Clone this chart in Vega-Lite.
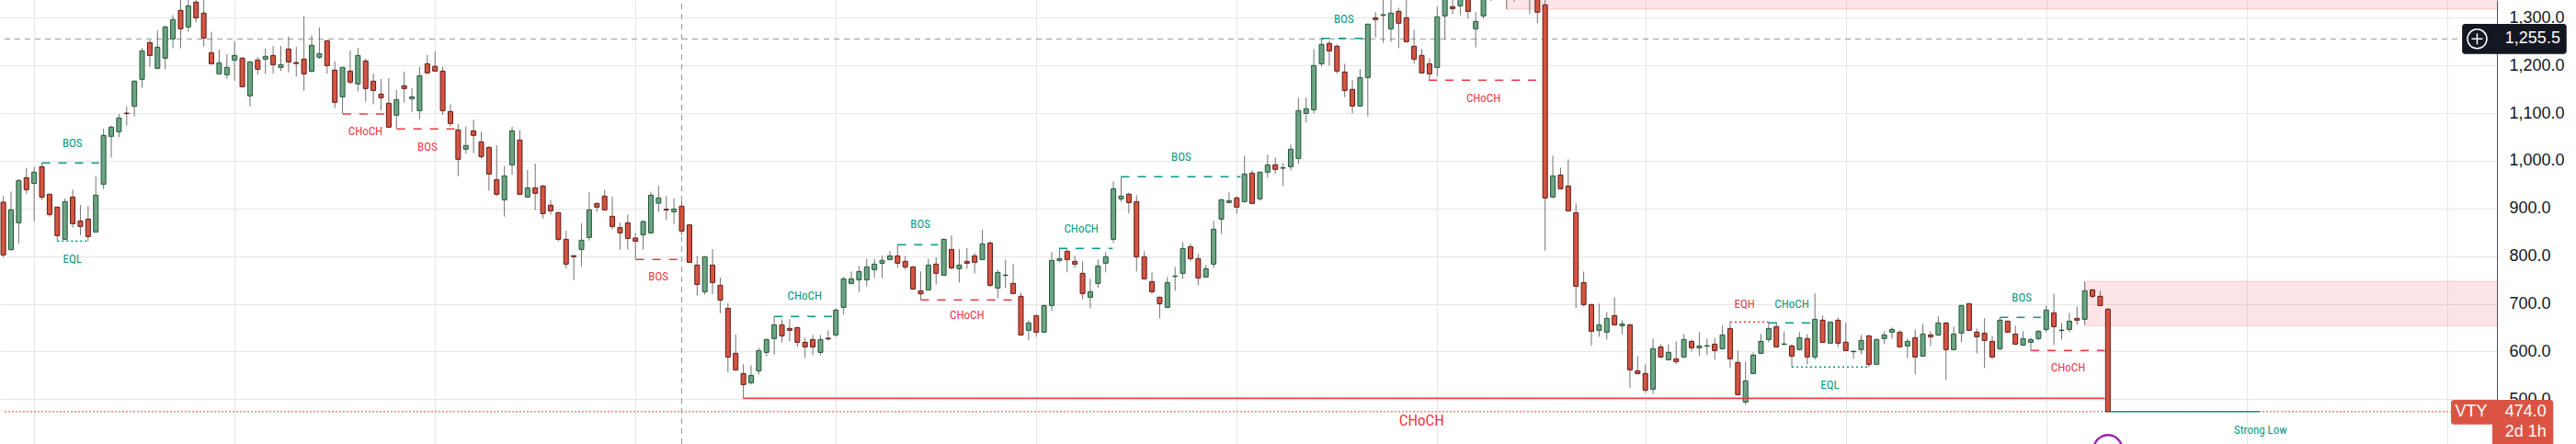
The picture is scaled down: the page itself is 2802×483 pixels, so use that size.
{
  "$schema": "https://vega.github.io/schema/vega-lite/v6.json",
  "width": 2716,
  "height": 483,
  "autosize": {"type": "none"},
  "padding": {"left": 0, "top": 0, "right": 86, "bottom": 0},
  "background": "#ffffff",
  "config": {"view": {"stroke": null}},
  "resolve": {"axis": {"x": "independent", "y": "independent"}},
  "datasets": {
    "candles": [
      {"i":0,"o":913.2,"h":926,"l":797.5,"c":802.7},
      {"i":1,"o":813.6,"h":935.7,"l":812,"c":897.1},
      {"i":2,"o":870.1,"h":961.4,"l":826.4,"c":958.8},
      {"i":3,"o":964.6,"h":985.2,"l":931.2,"c":939.5},
      {"i":4,"o":952.4,"h":987.1,"l":873.3,"c":976.2},
      {"i":5,"o":987.7,"h":995.4,"l":917.7,"c":924.1},
      {"i":6,"o":929.9,"h":931,"l":883,"c":887.5},
      {"i":7,"o":902.9,"h":903.5,"l":831.6,"c":843.1},
      {"i":8,"o":835.4,"h":920.9,"l":834.5,"c":914.5},
      {"i":9,"o":924.1,"h":940.2,"l":859.9,"c":868.2},
      {"i":10,"o":874,"h":907.4,"l":843.8,"c":862.4},
      {"i":11,"o":877.8,"h":905.5,"l":831.6,"c":841.2},
      {"i":12,"o":850.9,"h":967.2,"l":849.5,"c":928},
      {"i":13,"o":951.1,"h":1067.4,"l":940.8,"c":1053.3},
      {"i":14,"o":1051.3,"h":1073.8,"l":1006.4,"c":1070.6},
      {"i":15,"o":1061,"h":1098.3,"l":1049.4,"c":1089.9},
      {"i":16,"o":1100,"h":1113.7,"l":1073.8,"c":1099},
      {"i":17,"o":1114.3,"h":1168.9,"l":1093.1,"c":1167},
      {"i":18,"o":1170.9,"h":1236.4,"l":1152.9,"c":1230.6},
      {"i":19,"o":1248,"h":1253.8,"l":1197.2,"c":1221},
      {"i":20,"o":1194,"h":1273,"l":1192.5,"c":1238.3},
      {"i":21,"o":1215.2,"h":1284,"l":1191.4,"c":1280.7},
      {"i":22,"o":1255.7,"h":1305.2,"l":1235.8,"c":1296.2},
      {"i":23,"o":1315.5,"h":1340,"l":1235.8,"c":1276.9},
      {"i":24,"o":1280.7,"h":1345,"l":1270.5,"c":1325.1},
      {"i":25,"o":1332.8,"h":1345,"l":1290.4,"c":1300},
      {"i":26,"o":1309.7,"h":1340,"l":1239.6,"c":1257.6},
      {"i":27,"o":1226.8,"h":1270.5,"l":1202,"c":1203.6},
      {"i":28,"o":1182.4,"h":1233.2,"l":1181,"c":1205.6},
      {"i":29,"o":1180.5,"h":1223.5,"l":1172.1,"c":1195.9},
      {"i":30,"o":1211.4,"h":1250.5,"l":1168.3,"c":1221},
      {"i":31,"o":1215.2,"h":1217.8,"l":1154,"c":1155.4},
      {"i":32,"o":1136.2,"h":1209,"l":1114.3,"c":1207.5},
      {"i":33,"o":1211.4,"h":1217.8,"l":1180.5,"c":1192.1},
      {"i":34,"o":1213.3,"h":1235.8,"l":1182.4,"c":1219.1},
      {"i":35,"o":1221,"h":1240.9,"l":1183.1,"c":1201.7},
      {"i":36,"o":1195.9,"h":1240.9,"l":1188.2,"c":1201.7},
      {"i":37,"o":1234.5,"h":1260.2,"l":1185.6,"c":1207.5},
      {"i":38,"o":1206,"h":1239,"l":1176.7,"c":1204},
      {"i":39,"o":1213.3,"h":1303.2,"l":1147.1,"c":1182.4},
      {"i":40,"o":1187.6,"h":1263.4,"l":1186,"c":1242.2},
      {"i":41,"o":1217.1,"h":1279.5,"l":1213.9,"c":1224.8},
      {"i":42,"o":1251.8,"h":1253,"l":1183.1,"c":1199.8},
      {"i":43,"o":1190.1,"h":1208.8,"l":1110.5,"c":1122.7},
      {"i":44,"o":1134.2,"h":1197,"l":1098.3,"c":1195.9},
      {"i":45,"o":1188.2,"h":1231.3,"l":1160.6,"c":1165.1},
      {"i":46,"o":1161.2,"h":1237.1,"l":1145.8,"c":1221},
      {"i":47,"o":1209.4,"h":1213.9,"l":1124,"c":1151.6},
      {"i":48,"o":1167,"h":1183.1,"l":1118.2,"c":1147.7},
      {"i":49,"o":1140,"h":1171.5,"l":1106,"c":1132.3},
      {"i":50,"o":1120.7,"h":1173.4,"l":1069,"c":1070.6},
      {"i":51,"o":1095.7,"h":1148.4,"l":1066.8,"c":1128.4},
      {"i":52,"o":1157.4,"h":1186.9,"l":1122,"c":1151.6},
      {"i":53,"o":1130.4,"h":1152.2,"l":1102.7,"c":1134.2},
      {"i":54,"o":1105.3,"h":1197.2,"l":1087.3,"c":1178.5},
      {"i":55,"o":1203.6,"h":1221.6,"l":1181.8,"c":1184.4},
      {"i":56,"o":1197.9,"h":1229.3,"l":1187,"c":1188.2},
      {"i":57,"o":1188.2,"h":1197.2,"l":1096.3,"c":1105.3},
      {"i":58,"o":1103.4,"h":1118.8,"l":1071.9,"c":1078.3},
      {"i":59,"o":1064.8,"h":1077,"l":967.8,"c":1003.2},
      {"i":60,"o":1024.4,"h":1071.9,"l":1014.7,"c":1032.1},
      {"i":61,"o":1062.9,"h":1086,"l":1016,"c":1053.3},
      {"i":62,"o":1039.8,"h":1061,"l":1004.4,"c":1008.9},
      {"i":63,"o":1028.2,"h":1030,"l":937,"c":972.3},
      {"i":64,"o":960.7,"h":1032.7,"l":926,"c":929.9},
      {"i":65,"o":918.3,"h":989,"l":883,"c":968.4},
      {"i":66,"o":991.6,"h":1071.3,"l":971,"c":1062.9},
      {"i":67,"o":1043.6,"h":1064.8,"l":928,"c":929.9},
      {"i":68,"o":924.1,"h":980.7,"l":922.5,"c":943.4},
      {"i":69,"o":943.4,"h":994.1,"l":896.5,"c":931.8},
      {"i":70,"o":947.2,"h":949,"l":879.1,"c":889.4},
      {"i":71,"o":906.8,"h":918.3,"l":887.5,"c":895.2},
      {"i":72,"o":891.3,"h":893,"l":830.9,"c":835.4},
      {"i":73,"o":835.4,"h":853.4,"l":775,"c":783.4},
      {"i":74,"o":801,"h":801.5,"l":750,"c":799},
      {"i":75,"o":814.2,"h":868.8,"l":778.9,"c":833.5},
      {"i":76,"o":839.3,"h":933.8,"l":832.9,"c":897.1},
      {"i":77,"o":910.6,"h":912.6,"l":892.6,"c":902.9},
      {"i":78,"o":926,"h":939.5,"l":896,"c":897.1},
      {"i":79,"o":883.6,"h":924.8,"l":856.6,"c":862.4},
      {"i":80,"o":859.9,"h":870.1,"l":813.6,"c":849},
      {"i":81,"o":870.1,"h":887.4,"l":813.6,"c":837.3},
      {"i":82,"o":838,"h":848.9,"l":793,"c":831.5},
      {"i":83,"o":845,"h":875.9,"l":813.6,"c":872.7},
      {"i":84,"o":848.9,"h":935.6,"l":847,"c":927.9},
      {"i":85,"o":911.2,"h":947.9,"l":892.6,"c":922.2},
      {"i":86,"o":898.5,"h":926,"l":875.9,"c":897},
      {"i":87,"o":893.2,"h":920.9,"l":868.2,"c":899},
      {"i":88,"o":904.8,"h":916.4,"l":844.4,"c":852.7},
      {"i":89,"o":865.6,"h":867,"l":786,"c":787.2},
      {"i":90,"o":781.4,"h":800.7,"l":717.2,"c":740.9},
      {"i":91,"o":725.5,"h":800,"l":719.1,"c":798.8},
      {"i":92,"o":781.4,"h":814.8,"l":720.4,"c":744.8},
      {"i":93,"o":739,"h":755.1,"l":680.5,"c":708.2},
      {"i":94,"o":690.8,"h":701.1,"l":556.5,"c":588.6},
      {"i":95,"o":596.4,"h":635.6,"l":559.7,"c":561.7},
      {"i":96,"o":553.9,"h":573.2,"l":501.9,"c":530.8},
      {"i":97,"o":534.7,"h":571.3,"l":530.8,"c":550.1},
      {"i":98,"o":559.7,"h":607.9,"l":552,"c":602.1},
      {"i":99,"o":598.3,"h":627,"l":589.9,"c":625.3},
      {"i":100,"o":627.2,"h":673.5,"l":593.8,"c":656.1},
      {"i":101,"o":656.1,"h":667.7,"l":618.8,"c":633},
      {"i":102,"o":648.4,"h":667.7,"l":621.4,"c":644.6},
      {"i":103,"o":650.3,"h":652,"l":609.8,"c":619.5},
      {"i":104,"o":619.5,"h":629.1,"l":586.7,"c":609.8},
      {"i":105,"o":625.3,"h":634.9,"l":592.5,"c":609.8},
      {"i":106,"o":598.3,"h":634.9,"l":591.9,"c":625.3},
      {"i":107,"o":628,"h":644.6,"l":623.3,"c":626.5},
      {"i":108,"o":634.9,"h":690.8,"l":631.1,"c":687},
      {"i":109,"o":692.7,"h":756.4,"l":678,"c":752.5},
      {"i":110,"o":742.9,"h":767.9,"l":740.9,"c":752.5},
      {"i":111,"o":750.6,"h":779.5,"l":724.9,"c":767.9},
      {"i":112,"o":750.6,"h":794.9,"l":737.1,"c":777.6},
      {"i":113,"o":771.8,"h":794.9,"l":754.4,"c":783.4},
      {"i":114,"o":785.3,"h":800.7,"l":754.4,"c":791.1},
      {"i":115,"o":793,"h":810.3,"l":792,"c":800.7},
      {"i":116,"o":800.7,"h":823.8,"l":775.6,"c":785.3},
      {"i":117,"o":789.1,"h":800.7,"l":771.8,"c":777.6},
      {"i":118,"o":777.6,"h":779.5,"l":730,"c":731.3},
      {"i":119,"o":727.4,"h":767.9,"l":708.5,"c":721},
      {"i":120,"o":729.4,"h":794.9,"l":728,"c":781.4},
      {"i":121,"o":783.4,"h":797.5,"l":740.9,"c":764.1},
      {"i":122,"o":760.2,"h":837,"l":759,"c":835.4},
      {"i":123,"o":814.2,"h":843.8,"l":771.8,"c":775.6},
      {"i":124,"o":773.7,"h":814.8,"l":744.8,"c":781.4},
      {"i":125,"o":789.1,"h":816.8,"l":773.7,"c":785.3},
      {"i":126,"o":800.7,"h":806.5,"l":764.1,"c":787.2},
      {"i":127,"o":793,"h":855.3,"l":792,"c":825.8},
      {"i":128,"o":827.7,"h":831.6,"l":735.2,"c":739},
      {"i":129,"o":733.2,"h":771.8,"l":712,"c":766},
      {"i":130,"o":759.5,"h":793,"l":733.2,"c":760.5},
      {"i":131,"o":742.9,"h":783.4,"l":720.5,"c":721.7},
      {"i":132,"o":715.9,"h":723.6,"l":634,"c":634.9},
      {"i":133,"o":644.6,"h":665.8,"l":623.4,"c":660},
      {"i":134,"o":675.4,"h":677,"l":631.1,"c":640.7},
      {"i":135,"o":640.7,"h":698,"l":638.8,"c":696.6},
      {"i":136,"o":696.6,"h":808.4,"l":685,"c":791.1},
      {"i":137,"o":791.1,"h":816.1,"l":787.2,"c":794.9},
      {"i":138,"o":810.3,"h":816.1,"l":766,"c":793},
      {"i":139,"o":789.1,"h":800.7,"l":775.6,"c":783.4},
      {"i":140,"o":764.1,"h":789.1,"l":710.1,"c":721.7},
      {"i":141,"o":714,"h":752.5,"l":690.8,"c":725.5},
      {"i":142,"o":742.9,"h":793,"l":733.2,"c":779.5},
      {"i":143,"o":785.3,"h":808.4,"l":766,"c":798.8},
      {"i":144,"o":835.4,"h":956.9,"l":827.7,"c":941.4},
      {"i":145,"o":920.2,"h":966.5,"l":914.4,"c":926},
      {"i":146,"o":929.9,"h":933.7,"l":889.4,"c":912.5},
      {"i":147,"o":914.4,"h":927.9,"l":767.9,"c":798.8},
      {"i":148,"o":798.8,"h":810.3,"l":751,"c":752.5},
      {"i":149,"o":746.7,"h":766,"l":721.7,"c":725.5},
      {"i":150,"o":714,"h":715,"l":669.6,"c":700.5},
      {"i":151,"o":692.7,"h":756.4,"l":691,"c":744.8},
      {"i":152,"o":757.5,"h":777.6,"l":727.4,"c":758.5},
      {"i":153,"o":764.1,"h":829.6,"l":752.5,"c":816.1},
      {"i":154,"o":820,"h":825.8,"l":789.1,"c":794.9},
      {"i":155,"o":794.9,"h":804.6,"l":739,"c":754.4},
      {"i":156,"o":756.4,"h":781.4,"l":755,"c":773.7},
      {"i":157,"o":783.4,"h":874.6,"l":775.6,"c":856.6},
      {"i":158,"o":877.8,"h":920,"l":847,"c":918.3},
      {"i":159,"o":912.5,"h":933.7,"l":911,"c":916.4},
      {"i":160,"o":922.2,"h":926,"l":889.4,"c":902.9},
      {"i":161,"o":914.4,"h":1010.8,"l":913,"c":972.3},
      {"i":162,"o":974.2,"h":980,"l":909,"c":910.6},
      {"i":163,"o":920.3,"h":977.5,"l":916.4,"c":976.2},
      {"i":164,"o":976.2,"h":1012.8,"l":964.6,"c":991.6},
      {"i":165,"o":991.6,"h":1007,"l":972.3,"c":982},
      {"i":166,"o":984.5,"h":995.4,"l":947.2,"c":985.5},
      {"i":167,"o":987.7,"h":1034,"l":980,"c":1024.4},
      {"i":168,"o":1005.1,"h":1132.3,"l":993.5,"c":1105.3},
      {"i":169,"o":1099.5,"h":1132.3,"l":1080.3,"c":1109.2},
      {"i":170,"o":1107.2,"h":1234.5,"l":1099.5,"c":1199.8},
      {"i":171,"o":1203.6,"h":1257.6,"l":1197.9,"c":1244.1},
      {"i":172,"o":1246.1,"h":1251.8,"l":1199.8,"c":1230.6},
      {"i":173,"o":1240.3,"h":1244.1,"l":1182.4,"c":1188.2},
      {"i":174,"o":1186.3,"h":1203.6,"l":1133.6,"c":1147.7},
      {"i":175,"o":1149.7,"h":1168.9,"l":1099.5,"c":1115},
      {"i":176,"o":1115,"h":1192.1,"l":1113.5,"c":1174.7},
      {"i":177,"o":1174.7,"h":1288,"l":1093.1,"c":1286.5},
      {"i":178,"o":1300,"h":1311.6,"l":1258.9,"c":1296.2},
      {"i":179,"o":1305,"h":1345,"l":1247.3,"c":1306.5},
      {"i":180,"o":1276.9,"h":1342,"l":1249.3,"c":1309.7},
      {"i":181,"o":1313.5,"h":1321.2,"l":1236.4,"c":1288.5},
      {"i":182,"o":1300,"h":1340,"l":1248.5,"c":1249.9},
      {"i":183,"o":1240.3,"h":1275,"l":1203.6,"c":1213.3},
      {"i":184,"o":1221,"h":1234.5,"l":1183,"c":1184.4},
      {"i":185,"o":1203.6,"h":1215.2,"l":1168.9,"c":1182.4},
      {"i":186,"o":1195.9,"h":1323.2,"l":1176.7,"c":1302},
      {"i":187,"o":1303.9,"h":1360,"l":1253.8,"c":1345},
      {"i":188,"o":1323.2,"h":1345,"l":1307.7,"c":1319.3},
      {"i":189,"o":1325.1,"h":1355,"l":1305.2,"c":1345},
      {"i":190,"o":1345,"h":1355,"l":1298.1,"c":1313.5},
      {"i":191,"o":1276.9,"h":1311.6,"l":1237.7,"c":1292.3},
      {"i":192,"o":1303.9,"h":1360,"l":1298.1,"c":1350},
      {"i":193,"o":1360,"h":1375,"l":1335.4,"c":1350},
      {"i":194,"o":1350,"h":1380,"l":1342,"c":1365},
      {"i":195,"o":1365,"h":1385,"l":1318,"c":1348},
      {"i":196,"o":1348,"h":1370,"l":1334.1,"c":1360},
      {"i":197,"o":1360,"h":1372,"l":1340,"c":1352},
      {"i":198,"o":1352,"h":1365,"l":1307.7,"c":1345},
      {"i":199,"o":1348,"h":1355,"l":1288.5,"c":1311.6},
      {"i":200,"o":1327,"h":1340,"l":811.7,"c":922.2},
      {"i":201,"o":924.1,"h":1010.8,"l":922.2,"c":968.4},
      {"i":202,"o":970.3,"h":985.8,"l":940,"c":941.4},
      {"i":203,"o":947.2,"h":1003.1,"l":893.2,"c":895.2},
      {"i":204,"o":891.3,"h":910.6,"l":690.8,"c":737.1},
      {"i":205,"o":744.8,"h":767.9,"l":694.7,"c":698.5},
      {"i":206,"o":698.5,"h":700.5,"l":611.8,"c":642.6},
      {"i":207,"o":644.6,"h":700.5,"l":631.1,"c":656.1},
      {"i":208,"o":640.7,"h":683.1,"l":625.3,"c":669.6},
      {"i":209,"o":675.4,"h":714,"l":655,"c":656.1},
      {"i":210,"o":654.2,"h":665.8,"l":636.8,"c":658},
      {"i":211,"o":656.1,"h":658,"l":524.4,"c":561.7},
      {"i":212,"o":559.7,"h":590.6,"l":552,"c":553.9},
      {"i":213,"o":553.9,"h":573.2,"l":513.5,"c":519.2},
      {"i":214,"o":521.2,"h":627.2,"l":511.5,"c":606},
      {"i":215,"o":609.8,"h":615.6,"l":586.7,"c":588.6},
      {"i":216,"o":582.9,"h":615.6,"l":581.5,"c":598.3},
      {"i":217,"o":584.8,"h":621.4,"l":573.2,"c":579},
      {"i":218,"o":588.6,"h":636.8,"l":586.7,"c":625.3},
      {"i":219,"o":621.4,"h":625.3,"l":600.2,"c":607.9},
      {"i":220,"o":607.9,"h":640.7,"l":590.6,"c":611.8},
      {"i":221,"o":611.3,"h":627.2,"l":592.5,"c":612.3},
      {"i":222,"o":615.6,"h":629.1,"l":582.9,"c":602.1},
      {"i":223,"o":606,"h":654.2,"l":604.5,"c":634.9},
      {"i":224,"o":648.4,"h":661.9,"l":565.5,"c":584.8},
      {"i":225,"o":577.1,"h":602.1,"l":508,"c":509.6},
      {"i":226,"o":494.2,"h":579,"l":488.4,"c":538.5},
      {"i":227,"o":553.9,"h":598.3,"l":552.5,"c":592.5},
      {"i":228,"o":596.4,"h":636.8,"l":595,"c":621.4},
      {"i":229,"o":625.3,"h":660,"l":619.5,"c":648.4},
      {"i":230,"o":652.3,"h":660,"l":608.5,"c":609.8},
      {"i":231,"o":615,"h":642.6,"l":613.7,"c":616},
      {"i":232,"o":611.8,"h":615.6,"l":567.4,"c":590.6},
      {"i":233,"o":604.1,"h":640.7,"l":602.5,"c":629.1},
      {"i":234,"o":627.2,"h":636.8,"l":573.2,"c":588.6},
      {"i":235,"o":588.6,"h":721.7,"l":582.9,"c":667.7},
      {"i":236,"o":665.8,"h":675.4,"l":618,"c":619.5},
      {"i":237,"o":617.6,"h":663,"l":616,"c":661.9},
      {"i":238,"o":665.8,"h":671.5,"l":609.8,"c":617.6},
      {"i":239,"o":619.5,"h":660,"l":601,"c":602.1},
      {"i":240,"o":599.7,"h":602.1,"l":584.8,"c":600.7},
      {"i":241,"o":604.1,"h":634.9,"l":594.4,"c":623.4},
      {"i":242,"o":633,"h":634.5,"l":567.4,"c":573.2},
      {"i":243,"o":573.2,"h":627.2,"l":572,"c":625.3},
      {"i":244,"o":627.2,"h":642.6,"l":615.6,"c":634.9},
      {"i":245,"o":640.7,"h":650.3,"l":627.2,"c":646.5},
      {"i":246,"o":640.7,"h":644.6,"l":608.5,"c":609.9},
      {"i":247,"o":611.8,"h":627.2,"l":586.7,"c":621.4},
      {"i":248,"o":629.1,"h":646.5,"l":552,"c":588.7},
      {"i":249,"o":590.6,"h":658.1,"l":589,"c":636.8},
      {"i":250,"o":634.9,"h":642.6,"l":611.8,"c":631.1},
      {"i":251,"o":634.9,"h":673.5,"l":633,"c":660},
      {"i":252,"o":660,"h":661.9,"l":540.5,"c":604.1},
      {"i":253,"o":604.1,"h":652.3,"l":602.5,"c":636.8},
      {"i":254,"o":638.8,"h":698,"l":619.5,"c":696.6},
      {"i":255,"o":700.5,"h":702,"l":643,"c":644.6},
      {"i":256,"o":640.7,"h":648.4,"l":596.4,"c":631.1},
      {"i":257,"o":638.8,"h":669.6,"l":565.5,"c":623.4},
      {"i":258,"o":621.4,"h":633,"l":584.8,"c":588.7},
      {"i":259,"o":606,"h":671.6,"l":602.2,"c":665.8},
      {"i":260,"o":663.8,"h":665.3,"l":639,"c":640.7},
      {"i":261,"o":636.8,"h":654.2,"l":614,"c":615.6},
      {"i":262,"o":613.7,"h":642.6,"l":612,"c":627.2},
      {"i":263,"o":619.5,"h":629.1,"l":602.2,"c":625.3},
      {"i":264,"o":627.2,"h":644.6,"l":623.4,"c":642.6},
      {"i":265,"o":646.5,"h":696.6,"l":640.7,"c":687},
      {"i":266,"o":681.2,"h":721.7,"l":613.7,"c":652.3},
      {"i":267,"o":644,"h":660,"l":625.3,"c":645},
      {"i":268,"o":646.5,"h":681.2,"l":640.7,"c":663.8},
      {"i":269,"o":669.6,"h":694.7,"l":656.1,"c":665.8},
      {"i":270,"o":667.7,"h":746.7,"l":656.1,"c":727.5},
      {"i":271,"o":729.4,"h":731.3,"l":712,"c":715.9},
      {"i":272,"o":715.9,"h":727.5,"l":694.7,"c":696.6},
      {"i":273,"o":688.9,"h":690.8,"l":474,"c":474}
    ],
    "zones": [
      {"x1":195,"x2":330,"y1":1318,"y2":1400},
      {"x1":270,"x2":330,"y1":654.2,"y2":747.4}
    ],
    "dash": [
      {"x1":5,"x2":12.44,"y":995.4,"s":"bull"},
      {"x1":44.04,"x2":49.58,"y":1098.3,"s":"bear"},
      {"x1":51.05,"x2":58.58,"y":1066.8,"s":"bear"},
      {"x1":82.05,"x2":88.55,"y":793,"s":"bear"},
      {"x1":100,"x2":107.5,"y":673.5,"s":"bull"},
      {"x1":116,"x2":121.25,"y":823.8,"s":"bull"},
      {"x1":119,"x2":130.8,"y":708.5,"s":"bear"},
      {"x1":136.93,"x2":143.9,"y":816.1,"s":"bull"},
      {"x1":145,"x2":160.5,"y":966.5,"s":"bull"},
      {"x1":171,"x2":176.4,"y":1257,"s":"bull"},
      {"x1":184.9,"x2":198.9,"y":1169,"s":"bear"},
      {"x1":229,"x2":234.6,"y":660,"s":"bull"},
      {"x1":259,"x2":264.3,"y":671.6,"s":"bull"},
      {"x1":263,"x2":272.6,"y":602.2,"s":"bear"}
    ],
    "dots": [
      {"x1":7,"x2":11,"y":831.6,"s":"bull"},
      {"x1":224,"x2":229,"y":661.9,"s":"bear"},
      {"x1":232,"x2":242,"y":567.4,"s":"bull"}
    ],
    "labels": [
      {"x":8.96,"y":1037.2,"t":"BOS","s":"bull"},
      {"x":8.96,"y":794.3,"t":"EQL","s":"bull"},
      {"x":46.97,"y":1062.3,"t":"CHoCH","s":"bear"},
      {"x":55.01,"y":1029.5,"t":"BOS","s":"bear"},
      {"x":84.98,"y":757.6,"t":"BOS","s":"bear"},
      {"x":103.95,"y":715.9,"t":"CHoCH","s":"bull"},
      {"x":118.96,"y":866,"t":"BOS","s":"bull"},
      {"x":125,"y":675.4,"t":"CHoCH","s":"bear"},
      {"x":139.83,"y":856.6,"t":"CHoCH","s":"bull"},
      {"x":152.8,"y":1008.3,"t":"BOS","s":"bull"},
      {"x":173.9,"y":1297.5,"t":"BOS","s":"bull"},
      {"x":192,"y":1131.7,"t":"CHoCH","s":"bear"},
      {"x":225.87,"y":699.8,"t":"EQH","s":"bear"},
      {"x":232,"y":699.8,"t":"CHoCH","s":"bull"},
      {"x":236.95,"y":528.9,"t":"EQL","s":"bull"},
      {"x":261.83,"y":712,"t":"BOS","s":"bull"},
      {"x":267.84,"y":566.8,"t":"CHoCH","s":"bear"},
      {"x":292.8,"y":435.7,"t":"Strong Low","s":"bull"}
    ]
  },
  "layer": [
    {
      "data": {"name": "zones"},
      "mark": {"type": "rect", "fill": "#F23645", "fillOpacity": 0.13, "stroke": "#F23645", "strokeOpacity": 0.22, "strokeWidth": 1, "clip": true},
      "encoding": {
        "x": {"field": "x1", "type": "quantitative", "scale": {"domain": [0.166, 322.87], "nice": false, "zero": false},
          "axis": {"values": [4, 30, 56, 82, 108, 134, 160, 186, 213, 239, 265, 291, 317], "grid": true, "gridColor": "#E6E6E6", "gridWidth": 1, "labels": false, "ticks": false, "domain": false, "title": null}},
        "x2": {"field": "x2"},
        "y": {"field": "y1", "type": "quantitative", "scale": {"domain": [406.18, 1337.26], "nice": false, "zero": false},
          "axis": {"orient": "right", "values": [500, 600, 700, 800, 900, 1000, 1100, 1200, 1300], "format": ",.1f", "grid": true, "gridColor": "#E6E6E6", "gridWidth": 1, "ticks": false, "domain": true, "domainColor": "#50535E", "domainWidth": 1, "labelPadding": 13, "labelFont": "Liberation Sans", "labelFontSize": 18, "labelColor": "#131722", "labelBaseline": "middle", "labelFlush": false, "labelOverlap": false, "title": null}},
        "y2": {"field": "y2"}
      }
    },
    {
      "data": {"values": [{"x1": 0.166, "x2": 322.87, "y": 474}]},
      "mark": {"type": "rule", "color": "#DB5443", "strokeWidth": 1, "strokeDash": [2, 2]},
      "encoding": {
        "x": {"field": "x1", "type": "quantitative", "scale": {"domain": [0.166, 322.87], "nice": false, "zero": false}, "axis": null},
        "x2": {"field": "x2"},
        "y": {"field": "y", "type": "quantitative", "scale": {"domain": [406.18, 1337.26], "nice": false, "zero": false}, "axis": null}
      }
    },
    {
      "data": {"values": [{"x1": 0.166, "x2": 318.95, "y": 1255.5}]},
      "mark": {"type": "rule", "color": "#9598A1", "strokeWidth": 1, "strokeDash": [6, 5]},
      "encoding": {
        "x": {"field": "x1", "type": "quantitative", "scale": {"domain": [0.166, 322.87], "nice": false, "zero": false}, "axis": null},
        "x2": {"field": "x2"},
        "y": {"field": "y", "type": "quantitative", "scale": {"domain": [406.18, 1337.26], "nice": false, "zero": false}, "axis": null}
      }
    },
    {
      "data": {"values": [{"x": 88, "y1": 406.18, "y2": 1337.26}]},
      "mark": {"type": "rule", "color": "#9598A1", "strokeWidth": 1, "strokeDash": [6, 5]},
      "encoding": {
        "x": {"field": "x", "type": "quantitative", "scale": {"domain": [0.166, 322.87], "nice": false, "zero": false}, "axis": null},
        "y": {"field": "y1", "type": "quantitative", "scale": {"domain": [406.18, 1337.26], "nice": false, "zero": false}, "axis": null},
        "y2": {"field": "y2"}
      }
    },
    {
      "data": {"name": "candles"},
      "mark": {"type": "rule", "color": "#737375", "strokeWidth": 1, "clip": true},
      "encoding": {
        "x": {"field": "i", "type": "quantitative", "scale": {"domain": [0.166, 322.87], "nice": false, "zero": false}, "axis": null},
        "y": {"field": "l", "type": "quantitative", "scale": {"domain": [406.18, 1337.26], "nice": false, "zero": false}, "axis": null},
        "y2": {"field": "h"}
      }
    },
    {
      "data": {"name": "candles"},
      "mark": {"type": "bar", "width": 5, "strokeWidth": 1, "clip": true},
      "encoding": {
        "x": {"field": "i", "type": "quantitative", "scale": {"domain": [0.166, 322.87], "nice": false, "zero": false}, "axis": null},
        "y": {"field": "o", "type": "quantitative", "scale": {"domain": [406.18, 1337.26], "nice": false, "zero": false}, "axis": null},
        "y2": {"field": "c"},
        "fill": {"condition": {"test": "datum.c >= datum.o", "value": "#6BA583"}, "value": "#D75442"},
        "stroke": {"condition": {"test": "datum.c >= datum.o", "value": "#225437"}, "value": "#5B1A13"}
      }
    },
    {
      "data": {"name": "dash"},
      "mark": {"type": "rule", "strokeWidth": 1.5, "strokeDash": [9, 9]},
      "encoding": {
        "x": {"field": "x1", "type": "quantitative", "scale": {"domain": [0.166, 322.87], "nice": false, "zero": false}, "axis": null},
        "x2": {"field": "x2"},
        "y": {"field": "y", "type": "quantitative", "scale": {"domain": [406.18, 1337.26], "nice": false, "zero": false}, "axis": null},
        "color": {"field": "s", "type": "nominal", "scale": {"domain": ["bull", "bear"], "range": ["#089981", "#F23645"]}, "legend": null}
      }
    },
    {
      "data": {"name": "dots"},
      "mark": {"type": "rule", "strokeWidth": 1.5, "strokeDash": [2, 3]},
      "encoding": {
        "x": {"field": "x1", "type": "quantitative", "scale": {"domain": [0.166, 322.87], "nice": false, "zero": false}, "axis": null},
        "x2": {"field": "x2"},
        "y": {"field": "y", "type": "quantitative", "scale": {"domain": [406.18, 1337.26], "nice": false, "zero": false}, "axis": null},
        "color": {"field": "s", "type": "nominal", "scale": {"domain": ["bull", "bear"], "range": ["#089981", "#F23645"]}, "legend": null}
      }
    },
    {
      "data": {"values": [{"x1": 95.95, "x2": 272.6, "y": 501.9}]},
      "mark": {"type": "rule", "color": "#F23645", "strokeWidth": 1.5},
      "encoding": {
        "x": {"field": "x1", "type": "quantitative", "scale": {"domain": [0.166, 322.87], "nice": false, "zero": false}, "axis": null},
        "x2": {"field": "x2"},
        "y": {"field": "y", "type": "quantitative", "scale": {"domain": [406.18, 1337.26], "nice": false, "zero": false}, "axis": null}
      }
    },
    {
      "data": {"values": [{"x1": 273.2, "x2": 292.7, "y": 474}]},
      "mark": {"type": "rule", "color": "#089981", "strokeWidth": 1.5},
      "encoding": {
        "x": {"field": "x1", "type": "quantitative", "scale": {"domain": [0.166, 322.87], "nice": false, "zero": false}, "axis": null},
        "x2": {"field": "x2"},
        "y": {"field": "y", "type": "quantitative", "scale": {"domain": [406.18, 1337.26], "nice": false, "zero": false}, "axis": null}
      }
    },
    {
      "data": {"name": "labels"},
      "mark": {"type": "text", "font": "Liberation Sans Narrow, Roboto Condensed, Roboto, sans-serif", "fontSize": 13, "align": "center", "baseline": "middle"},
      "encoding": {
        "x": {"field": "x", "type": "quantitative", "scale": {"domain": [0.166, 322.87], "nice": false, "zero": false}, "axis": null},
        "y": {"field": "y", "type": "quantitative", "scale": {"domain": [406.18, 1337.26], "nice": false, "zero": false}, "axis": null},
        "text": {"field": "t"},
        "color": {"field": "s", "type": "nominal", "scale": {"domain": ["bull", "bear"], "range": ["#089981", "#F23645"]}, "legend": null}
      }
    },
    {
      "data": {"values": [{"x": 183.97, "y": 453.8, "t": "CHoCH"}]},
      "mark": {"type": "text", "font": "Liberation Sans Narrow, Roboto Condensed, Roboto, sans-serif", "fontSize": 17, "align": "center", "baseline": "middle", "color": "#F23645"},
      "encoding": {
        "x": {"field": "x", "type": "quantitative", "scale": {"domain": [0.166, 322.87], "nice": false, "zero": false}, "axis": null},
        "y": {"field": "y", "type": "quantitative", "scale": {"domain": [406.18, 1337.26], "nice": false, "zero": false}, "axis": null},
        "text": {"field": "t"}
      }
    },
    {
      "data": {"values": [{"x": 273, "y": 395}]},
      "mark": {"type": "point", "shape": "circle", "size": 961, "filled": false, "stroke": "#9C27B0", "strokeWidth": 2.5, "opacity": 1},
      "encoding": {
        "x": {"field": "x", "type": "quantitative", "scale": {"domain": [0.166, 322.87], "nice": false, "zero": false}, "axis": null},
        "y": {"field": "y", "type": "quantitative", "scale": {"domain": [406.18, 1337.26], "nice": false, "zero": false}, "axis": null}
      }
    },
    {
      "data": {"values": [
        {"x1": 318.95, "x2": 332.5, "y1": 1224.1, "y2": 1287.1, "k": "cross"},
        {"x1": 317.51, "x2": 323.3, "y1": 447.2, "y2": 498.7, "k": "badge"},
        {"x1": 322.87, "x2": 330.77, "y1": 380, "y2": 498.7, "k": "badge"}
      ]},
      "mark": {"type": "rect", "cornerRadius": 3},
      "encoding": {
        "x": {"field": "x1", "type": "quantitative", "scale": {"domain": [0.166, 322.87], "nice": false, "zero": false}, "axis": null},
        "x2": {"field": "x2"},
        "y": {"field": "y1", "type": "quantitative", "scale": {"domain": [406.18, 1337.26], "nice": false, "zero": false}, "axis": null},
        "y2": {"field": "y2"},
        "fill": {"field": "k", "type": "nominal", "scale": {"domain": ["cross", "badge"], "range": ["#131722", "#DB5443"]}, "legend": null}
      }
    },
    {
      "data": {"values": [{"x": 320.9, "y": 1255.7}]},
      "mark": {"type": "point", "shape": "circle", "size": 441, "filled": false, "stroke": "#ffffff", "strokeWidth": 1.5, "opacity": 1},
      "encoding": {
        "x": {"field": "x", "type": "quantitative", "scale": {"domain": [0.166, 322.87], "nice": false, "zero": false}, "axis": null},
        "y": {"field": "y", "type": "quantitative", "scale": {"domain": [406.18, 1337.26], "nice": false, "zero": false}, "axis": null}
      }
    },
    {
      "data": {"values": [{"x": 320.9, "y": 1255.7}]},
      "mark": {"type": "point", "shape": "M-1,0H1M0,-1V1", "size": 144, "filled": false, "stroke": "#ffffff", "strokeWidth": 1.5, "opacity": 1},
      "encoding": {
        "x": {"field": "x", "type": "quantitative", "scale": {"domain": [0.166, 322.87], "nice": false, "zero": false}, "axis": null},
        "y": {"field": "y", "type": "quantitative", "scale": {"domain": [406.18, 1337.26], "nice": false, "zero": false}, "axis": null}
      }
    },
    {
      "data": {"values": [
        {"x": 324.52, "y": 1255.5, "t": "1,255.5", "a": "left"},
        {"x": 320.14, "y": 473.5, "t": "VTY", "a": "center"},
        {"x": 324.52, "y": 473.5, "t": "474.0", "a": "left"},
        {"x": 324.52, "y": 431.2, "t": "2d 1h", "a": "left"}
      ]},
      "mark": {"type": "text", "font": "Liberation Sans", "fontSize": 18, "baseline": "middle", "color": "#ffffff", "align": {"expr": "datum.a"}},
      "encoding": {
        "x": {"field": "x", "type": "quantitative", "scale": {"domain": [0.166, 322.87], "nice": false, "zero": false}, "axis": null},
        "y": {"field": "y", "type": "quantitative", "scale": {"domain": [406.18, 1337.26], "nice": false, "zero": false}, "axis": null},
        "text": {"field": "t"}
      }
    }
  ]
}
